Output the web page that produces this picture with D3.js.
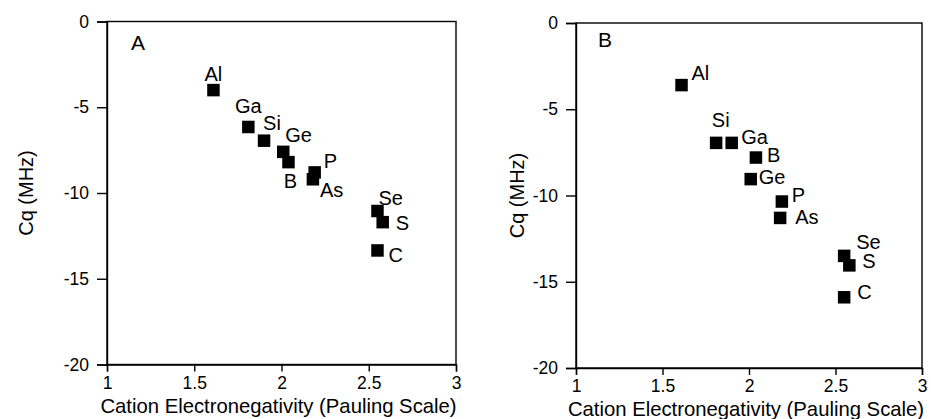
<!DOCTYPE html>
<html>
<head>
  <meta charset="utf-8">
  <title>Cq vs cation electronegativity</title>
  <style>
    body { margin: 0; background: #fff; }
    svg { display: block; font-family: "Liberation Sans", Arial, Helvetica, sans-serif; }
    .axis text { font-size: 17.5px; fill: #000; }
    .axis path, .axis line { stroke: #000; stroke-width: 1.4px; }
  </style>
</head>
<body>
  <svg id="chart"></svg>

  <script src="https://d3js.org/d3.v7.min.js"></script>
  <script>
    // data
    const elements = ["Al", "Ga", "Si", "Ge", "B", "P", "As", "Se", "S", "C"];
    const electronegativity = [1.61, 1.81, 1.90, 2.01, 2.04, 2.19, 2.18, 2.55, 2.58, 2.55];
    const cqA = [-4.0, -6.15, -6.95, -7.6, -8.2, -8.8, -9.2, -11.05, -11.7, -13.35];
    const cqB = [-3.6, -6.95, -6.95, -9.05, -7.8, -10.35, -11.3, -13.5, -14.05, -15.9];
    const xTicks = [1, 1.5, 2, 2.5, 3];
    const yTicks = [0, -5, -10, -15, -20];

    // label placement next to each square: [dx, dy, anchor]
    const labelPosA = [
      [0, -9, "middle"], [0, -14, "middle"], [-1, -11, "start"], [2, -10, "start"],
      [2, 26, "middle"], [9, -4, "start"], [7, 18, "start"], [1, -6, "start"],
      [13, 8, "start"], [11, 12, "start"]
    ];
    // in B the Ga label sits right of the pair, Si above it
    const labelPosB = [
      [10, -5, "start"], [25, 1, "start"], [-11, -16, "middle"], [8, 5, "start"],
      [11, 4, "start"], [10, 0, "start"], [15, 6, "start"], [12, -7, "start"],
      [13, 3, "start"], [13, 2, "start"]
    ];

    const width = 931;
    const height = 419;
    const sq = 12.5;

    const svg = d3.select("#chart")
      .attr("width", width)
      .attr("height", height);

    function drawPanel(opt) {
      const x = d3.scaleLinear().domain([1, 3]).range([opt.left, opt.right]);
      const y = d3.scaleLinear().domain([-20, 0]).range([opt.bottom, opt.top]);
      const g = svg.append("g");

      // frame
      g.append("rect")
        .attr("x", opt.left)
        .attr("y", opt.top)
        .attr("width", opt.right - opt.left)
        .attr("height", opt.bottom - opt.top)
        .attr("fill", "none")
        .attr("stroke", "#000")
        .attr("stroke-width", 1.4);

      g.append("g")
        .attr("class", "axis")
        .attr("transform", `translate(0,${opt.bottom})`)
        .call(d3.axisBottom(x).tickValues(xTicks).tickFormat(d3.format("")).tickSizeOuter(0).tickSize(7).tickPadding(5));

      g.append("g")
        .attr("class", "axis")
        .attr("transform", `translate(${opt.left},0)`)
        .call(d3.axisLeft(y).tickValues(yTicks).tickFormat(d => d < 0 ? "-" + Math.abs(d) : d).tickSizeOuter(0).tickSize(10).tickPadding(8));

      // axis titles
      g.append("text")
        .attr("x", (opt.left + opt.right) / 2 - 3)
        .attr("y", opt.xTitleY)
        .attr("text-anchor", "middle")
        .style("font-size", "20.3px")
        .text("Cation Electronegativity (Pauling Scale)");

      g.append("text")
        .attr("transform", `translate(${opt.yTitleX},${(opt.top + opt.bottom) / 2}) rotate(-90)`)
        .attr("text-anchor", "middle")
        .style("font-size", "20px")
        .text("Cq (MHz)");

      // panel letter
      g.append("text")
        .attr("x", opt.left + opt.letterDx)
        .attr("y", opt.top + opt.letterDy)
        .style("font-size", "21px")
        .text(opt.letter);

      const pts = elements.map((e, i) => ({ name: e, x: electronegativity[i], y: opt.values[i], pos: opt.labels[i] }));

      g.selectAll(".pt")
        .data(pts)
        .enter().append("rect")
        .attr("class", "pt")
        .attr("x", d => x(d.x) - sq / 2)
        .attr("y", d => y(d.y) - sq / 2)
        .attr("width", sq)
        .attr("height", sq)
        .attr("fill", "#000");

      g.selectAll(".lbl")
        .data(pts)
        .enter().append("text")
        .attr("class", "lbl")
        .attr("x", d => x(d.x) + d.pos[0])
        .attr("y", d => y(d.y) + d.pos[1])
        .attr("text-anchor", d => d.pos[2])
        .style("font-size", "20px")
        .text(d => d.name);
    }

    drawPanel({
      letter: "A", values: cqA, labels: labelPosA,
      left: 107, right: 456, top: 21.5, bottom: 364.5,
      xTitleY: 413, yTitleX: 33, letterDx: 24, letterDy: 28.5
    });

    drawPanel({
      letter: "B", values: cqB, labels: labelPosB,
      left: 576, right: 922, top: 23, bottom: 368,
      xTitleY: 416, yTitleX: 524, letterDx: 22, letterDy: 24
    });
  </script>
</body>
</html>
